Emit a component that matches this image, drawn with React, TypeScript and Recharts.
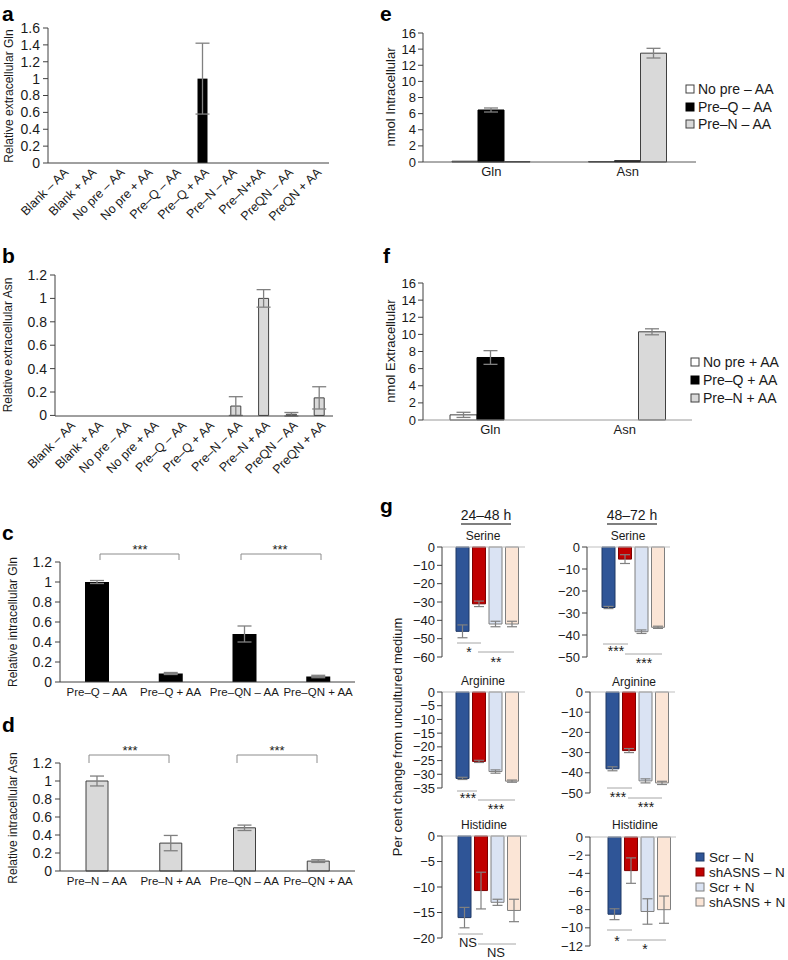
import React from 'react';
import { BarChart, Bar, XAxis, YAxis, ErrorBar, ReferenceLine } from 'recharts';

const FONT = '"Liberation Sans", Arial, Helvetica, sans-serif';
const AXIS = '#404040';
const ERR = '#808080';
const INK = '#1a1a1a';

// ---- a: relative extracellular Gln
const catsA = ['Blank – AA', 'Blank + AA', 'No pre – AA', 'No pre + AA', 'Pre–Q – AA', 'Pre–Q + AA', 'Pre–N – AA', 'Pre–N+AA', 'PreQN – AA', 'PreQN + AA'];
const extraGln = [0, 0, 0, 0, 0, 1.0, 0, 0, 0, 0];
const extraGlnErr = [0, 0, 0, 0, 0, 0.42, 0, 0, 0, 0];
const ticksA = [0, 0.2, 0.4, 0.6, 0.8, 1, 1.2, 1.4, 1.6];

// ---- b: relative extracellular Asn
const catsB = ['Blank – AA', 'Blank + AA', 'No pre – AA', 'No pre + AA', 'Pre–Q – AA', 'Pre–Q + AA', 'Pre–N – AA', 'Pre–N + AA', 'PreQN – AA', 'PreQN + AA'];
const extraAsn = [0, 0, 0, 0, 0, 0, 0.08, 1.0, 0.01, 0.15];
const extraAsnErr = [0, 0, 0, 0, 0, 0, 0.08, 0.075, 0.015, 0.095];
const ticks12 = [0, 0.2, 0.4, 0.6, 0.8, 1, 1.2];

// ---- c: relative intracellular Gln
const catsC = ['Pre–Q – AA', 'Pre–Q + AA', 'Pre–QN – AA', 'Pre–QN + AA'];
const intraGln = [1.0, 0.085, 0.48, 0.055];
const intraGlnErr = [0.015, 0.01, 0.08, 0.012];

// ---- d: relative intracellular Asn
const catsD = ['Pre–N – AA', 'Pre–N + AA', 'Pre–QN – AA', 'Pre–QN + AA'];
const intraAsn = [1.0, 0.31, 0.48, 0.11];
const intraAsnErr = [0.055, 0.085, 0.03, 0.015];

// ---- e / f: nmol
const aminoCats = ['Gln', 'Asn'];
const seriesE = ['No pre – AA', 'Pre–Q – AA', 'Pre–N – AA'];
const eNoPre = [0.1, 0.05];
const ePreQ = [6.45, 0.15];
const ePreN = [0.05, 13.5];
const eNoPreErr = [0, 0];
const ePreQErr = [0.25, 0];
const ePreNErr = [0, 0.6];
const seriesF = ['No pre + AA', 'Pre–Q + AA', 'Pre–N + AA'];
const fNoPre = [0.6, 0];
const fPreQ = [7.3, 0];
const fPreN = [0, 10.3];
const fNoPreErr = [0.3, 0];
const fPreQErr = [0.8, 0];
const fPreNErr = [0, 0.35];
const ticksNmol = [0, 2, 4, 6, 8, 10, 12, 14, 16];

// ---- g: per cent change from uncultured medium
const seriesG = ['Scr – N', 'shASNS – N', 'Scr + N', 'shASNS + N'];
const serine24 = [-46, -31, -42, -42];
const serine24Err = [3.5, 1.5, 1.5, 1.5];
const serine48 = [-27.5, -5.5, -38.5, -36.5];
const serine48Err = [0.5, 2, 0.8, 0.5];
const arginine24 = [-31.5, -25.3, -29, -32.5];
const arginine24Err = [0.4, 0.4, 0.6, 0.4];
const arginine48 = [-38, -29, -44, -45];
const arginine48Err = [1, 1, 1, 0.8];
const histidine24 = [-16, -10.7, -13, -14.6];
const histidine24Err = [2, 3.6, 0.6, 2.2];
const histidine48 = [-8.5, -3.7, -8.2, -8.0];
const histidine48Err = [0.6, 1.4, 1.4, 1.5];
const ticks60 = [-60, -50, -40, -30, -20, -10, 0];
const ticks50 = [-50, -40, -30, -20, -10, 0];
const ticks35 = [-35, -30, -25, -20, -15, -10, -5, 0];
const ticks20 = [-20, -15, -10, -5, 0];
const ticks12n = [-12, -10, -8, -6, -4, -2, 0];

const G_FILL = ['#2f5597', '#c00000', '#dae3f3', '#fbe5d6'];
const G_STROKE = ['#1f3864', '#7f0000', '#7f7f7f', '#7f7f7f'];
const G_KEYS = ['s0', 's1', 's2', 's3'];

type Geo = { x0: number; x1: number; yTop: number; yBot: number };

function frame(g: Geo, yw: number, xh: number, mt: number, mr: number, mb = 0) {
  return {
    style: { position: 'absolute' as const, left: g.x0 - yw, top: g.yTop - mt },
    width: yw + (g.x1 - g.x0) + mr,
    height: mt + (g.yBot - g.yTop) + xh + mb,
    margin: { top: mt, right: mr, bottom: mb, left: 0 },
  };
}

function AngledTick(props: any) {
  const { x, y, payload } = props;
  return (
    <g transform={`translate(${x + 4},${y + 3})`}>
      <text transform="rotate(-45)" textAnchor="end" dy="0.35em" fontSize={12.5} fill={INK} fontFamily={FONT}>
        {payload.value}
      </text>
    </g>
  );
}

function SimpleBars(p: {
  geo: Geo; yw: number; xh: number; cats: string[]; vals: number[]; errs: number[];
  domain: [number, number]; ticks: number[]; fill: string; stroke?: string; barSize: number; angled?: boolean;
}) {
  const f = frame(p.geo, p.yw, p.xh, 8, 12);
  const data = p.cats.map((name, i) => ({ name, value: p.vals[i], err: p.errs[i] }));
  return (
    <div style={f.style}>
      <BarChart width={f.width} height={f.height} margin={f.margin} data={data} barSize={p.barSize}>
        <XAxis
          dataKey="name"
          interval={0}
          height={p.xh}
          tickLine={false}
          tickSize={0}
          tickMargin={p.angled ? 4 : 6}
          axisLine={{ stroke: AXIS }}
          tick={p.angled ? <AngledTick /> : { fontSize: 11.5, fill: INK, fontFamily: FONT }}
        />
        <YAxis
          width={p.yw}
          type="number"
          domain={p.domain}
          ticks={p.ticks}
          interval={0}
          tickSize={5}
          tickMargin={3}
          axisLine={{ stroke: AXIS }}
          tickLine={{ stroke: AXIS }}
          tick={{ fontSize: 14, fill: INK, fontFamily: FONT }}
        />
        <Bar dataKey="value" fill={p.fill} stroke={p.stroke} strokeWidth={1} isAnimationActive={false}>
          <ErrorBar dataKey="err" width={7} stroke={ERR} strokeWidth={1.3} />
        </Bar>
      </BarChart>
    </div>
  );
}

function GroupBars(p: {
  geo: Geo; series: number[][]; errs: number[][]; barSize: number; axisColor: string;
}) {
  const f = frame(p.geo, 30, 24, 8, 6);
  const data = aminoCats.map((name, i) => ({
    name,
    v0: p.series[0][i], v1: p.series[1][i], v2: p.series[2][i],
    e0: p.errs[0][i], e1: p.errs[1][i], e2: p.errs[2][i],
  }));
  const fills = ['#ffffff', '#000000', '#d9d9d9'];
  const strokes = ['#404040', '#000000', '#404040'];
  return (
    <div style={f.style}>
      <BarChart width={f.width} height={f.height} margin={f.margin} data={data} barSize={p.barSize} barGap={0}>
        <XAxis
          dataKey="name"
          interval={0}
          height={24}
          tickLine={false}
          tickSize={0}
          tickMargin={5}
          axisLine={{ stroke: p.axisColor }}
          tick={{ fontSize: 13, fill: INK, fontFamily: FONT }}
        />
        <YAxis
          width={30}
          type="number"
          domain={[0, 16]}
          ticks={ticksNmol}
          interval={0}
          tickSize={5}
          tickMargin={2}
          axisLine={{ stroke: AXIS }}
          tickLine={{ stroke: AXIS }}
          tick={{ fontSize: 13, fill: INK, fontFamily: FONT }}
        />
        {[0, 1, 2].map((k) => (
          <Bar key={k} dataKey={`v${k}`} fill={fills[k]} stroke={strokes[k]} isAnimationActive={false}>
            <ErrorBar dataKey={`e${k}`} width={7} stroke={ERR} strokeWidth={1.3} />
          </Bar>
        ))}
      </BarChart>
    </div>
  );
}

const minus = (v: number) => String(v).replace('-', '−');

function GSub(p: { geo: Geo; vals: number[]; errs: number[]; domain: [number, number]; ticks: number[]; padLeft: number }) {
  const f = frame(p.geo, 32, 0, 8, 2, 8);
  const row: any = { name: 'g' };
  G_KEYS.forEach((k, i) => {
    row[k] = p.vals[i];
    row[k + 'Err'] = p.errs[i];
  });
  return (
    <div style={f.style}>
      <BarChart width={f.width} height={f.height} margin={f.margin} data={[row]} barSize={13} barGap={3.5}>
        <XAxis dataKey="name" hide padding={{ left: p.padLeft, right: 0 }} />
        <YAxis
          width={32}
          type="number"
          domain={p.domain}
          ticks={p.ticks}
          interval={0}
          tickSize={5}
          tickMargin={2}
          tickFormatter={minus}
          axisLine={{ stroke: AXIS }}
          tickLine={{ stroke: AXIS }}
          tick={{ fontSize: 13, fill: INK, fontFamily: FONT }}
        />
        <ReferenceLine y={0} stroke="#bfbfbf" strokeWidth={1.2} />
        {G_KEYS.map((k, i) => (
          <Bar key={k} dataKey={k} fill={G_FILL[i]} stroke={G_STROKE[i]} isAnimationActive={false}>
            <ErrorBar dataKey={k + 'Err'} width={5} stroke={ERR} strokeWidth={1.2} />
          </Bar>
        ))}
      </BarChart>
    </div>
  );
}

function Bracket({ x1, x2, y, drop }: { x1: number; x2: number; y: number; drop: number }) {
  return <path d={`M${x1},${y + drop} V${y} H${x2} V${y + drop}`} fill="none" stroke="#8c8c8c" strokeWidth={1} />;
}

function Sig({ x1, x2, y, label, tx, ty }: { x1: number; x2: number; y: number; label: string; tx: number; ty: number }) {
  return (
    <g>
      <line x1={x1} x2={x2} y1={y} y2={y} stroke="#a6a6a6" strokeWidth={1} />
      <text x={tx} y={ty} textAnchor="middle" fontSize={label === 'NS' ? 13 : 14} fill={INK}>{label}</text>
    </g>
  );
}

function YLabel({ x, y, text, size = 12 }: { x: number; y: number; text: string; size?: number }) {
  return (
    <text x={x} y={y} transform={`rotate(-90, ${x}, ${y})`} textAnchor="middle" fontSize={size} fill={INK}>
      {text}
    </text>
  );
}

function LegendItems({ x, ys, labels, fills, strokes, tx, size }: { x: number; ys: number[]; labels: string[]; fills: string[]; strokes: string[]; tx: number; size: number }) {
  return (
    <g>
      {labels.map((l, i) => (
        <g key={l}>
          <rect x={x} y={ys[i] - 4} width={8} height={8} fill={fills[i]} stroke={strokes[i]} strokeWidth={1} />
          <text x={tx} y={ys[i] + 5} fontSize={size} fill={INK}>{l}</text>
        </g>
      ))}
    </g>
  );
}

export default function App() {
  return (
    <div style={{ position: 'absolute', left: 0, top: 0, width: 788, height: 960, background: '#fff', overflow: 'hidden', fontFamily: FONT }}>
      <SimpleBars geo={{ x0: 48, x1: 329, yTop: 28, yBot: 163 }} yw={44} xh={75} cats={catsA} vals={extraGln} errs={extraGlnErr}
        domain={[0, 1.6]} ticks={ticksA} fill="#000000" barSize={10} angled />
      <SimpleBars geo={{ x0: 55, x1: 333, yTop: 275, yBot: 416 }} yw={48} xh={75} cats={catsB} vals={extraAsn} errs={extraAsnErr}
        domain={[0, 1.2]} ticks={ticks12} fill="#d9d9d9" stroke="#404040" barSize={10} angled />
      <SimpleBars geo={{ x0: 60, x1: 355, yTop: 562, yBot: 682 }} yw={44} xh={24} cats={catsC} vals={intraGln} errs={intraGlnErr}
        domain={[0, 1.2]} ticks={ticks12} fill="#000000" barSize={24} />
      <SimpleBars geo={{ x0: 60, x1: 355, yTop: 763, yBot: 871 }} yw={44} xh={24} cats={catsD} vals={intraAsn} errs={intraAsnErr}
        domain={[0, 1.2]} ticks={ticks12} fill="#d9d9d9" stroke="#404040" barSize={22} />

      <GroupBars geo={{ x0: 423, x1: 696, yTop: 33, yBot: 162 }} series={[eNoPre, ePreQ, ePreN]} errs={[eNoPreErr, ePreQErr, ePreNErr]} barSize={26} axisColor="#595959" />
      <GroupBars geo={{ x0: 423, x1: 692, yTop: 283, yBot: 420 }} series={[fNoPre, fPreQ, fPreN]} errs={[fNoPreErr, fPreQErr, fPreNErr]} barSize={27} axisColor="#9a9a9a" />

      <GSub geo={{ x0: 442, x1: 525, yTop: 547, yBot: 657 }} vals={serine24} errs={serine24Err} domain={[-60, 0]} ticks={ticks60} padLeft={8} />
      <GSub geo={{ x0: 587, x1: 670, yTop: 547, yBot: 657 }} vals={serine48} errs={serine48Err} domain={[-50, 0]} ticks={ticks50} padLeft={10} />
      <GSub geo={{ x0: 442, x1: 525, yTop: 692, yBot: 788 }} vals={arginine24} errs={arginine24Err} domain={[-35, 0]} ticks={ticks35} padLeft={7} />
      <GSub geo={{ x0: 590, x1: 675, yTop: 692, yBot: 793 }} vals={arginine48} errs={arginine48Err} domain={[-50, 0]} ticks={ticks50} padLeft={9} />
      <GSub geo={{ x0: 442, x1: 527, yTop: 836, yBot: 938 }} vals={histidine24} errs={histidine24Err} domain={[-20, 0]} ticks={ticks20} padLeft={10} />
      <GSub geo={{ x0: 590, x1: 676, yTop: 837, yBot: 946 }} vals={histidine48} errs={histidine48Err} domain={[-12, 0]} ticks={ticks12n} padLeft={12} />

      <svg width={788} height={960} style={{ position: 'absolute', left: 0, top: 0, pointerEvents: 'none' }} fontFamily={FONT}>
        {/* panel letters */}
        <g fontSize={21} fontWeight="bold" fill="#000">
          <text x={2} y={21}>a</text>
          <text x={2} y={263}>b</text>
          <text x={2} y={540}>c</text>
          <text x={2} y={732}>d</text>
          <text x={380} y={21}>e</text>
          <text x={383} y={263}>f</text>
          <text x={380} y={513}>g</text>
        </g>

        <YLabel x={13} y={96} text="Relative extracellular Gln" />
        <YLabel x={12} y={345} text="Relative extracellular Asn" />
        <YLabel x={17} y={622} text="Relative intracellular Gln" />
        <YLabel x={17} y={818} text="Relative intracellular Asn" />
        <YLabel x={395} y={97} text="nmol Intracellular" size={13} />
        <YLabel x={395} y={351} text="nmol Extracellular" size={13} />
        <YLabel x={402} y={737} text="Per cent change from uncultured medium" size={13} />

        {/* c, d brackets */}
        <Bracket x1={100} x2={179} y={554} drop={6} />
        <Bracket x1={241} x2={321} y={554} drop={6} />
        <Bracket x1={89} x2={169} y={755} drop={8} />
        <Bracket x1={237} x2={317} y={755} drop={8} />
        <g fontSize={13} fill={INK} textAnchor="middle">
          <text x={140} y={554}>***</text>
          <text x={280} y={554}>***</text>
          <text x={130} y={755}>***</text>
          <text x={277} y={755}>***</text>
        </g>

        {/* legends */}
        <LegendItems x={686} ys={[89, 107, 124]} tx={698} size={14} labels={seriesE}
          fills={['#ffffff', '#000000', '#d9d9d9']} strokes={['#404040', '#000000', '#404040']} />
        <LegendItems x={691} ys={[362, 380, 398]} tx={703} size={14} labels={seriesF}
          fills={['#ffffff', '#000000', '#d9d9d9']} strokes={['#404040', '#000000', '#404040']} />
        <LegendItems x={696} ys={[857, 872, 887, 902]} tx={709} size={13.5} labels={seriesG} fills={G_FILL} strokes={G_STROKE} />

        {/* g headings */}
        <g fontSize={14} fill={INK} textAnchor="middle">
          <text x={486} y={520}>24–48 h</text>
          <text x={632} y={520}>48–72 h</text>
        </g>
        <line x1={461} x2={511} y1={524} y2={524} stroke="#555" strokeWidth={1.3} />
        <line x1={607} x2={657} y1={524} y2={524} stroke="#555" strokeWidth={1.3} />
        <g fontSize={12} fill={INK} textAnchor="middle">
          <text x={483} y={540}>Serine</text>
          <text x={628} y={540}>Serine</text>
          <text x={483} y={685}>Arginine</text>
          <text x={634} y={686}>Arginine</text>
          <text x={484} y={829}>Histidine</text>
          <text x={635} y={829}>Histidine</text>
        </g>

        {/* g significance */}
        <Sig x1={457} x2={481} y={643} label="*" tx={469} ty={657} />
        <Sig x1={478} x2={514} y={652} label="**" tx={496} ty={667} />
        <Sig x1={603} x2={628} y={644} label="***" tx={616} ty={656} />
        <Sig x1={625} x2={662} y={654} label="***" tx={644} ty={668} />
        <Sig x1={457} x2={477} y={791} label="***" tx={468} ty={803} />
        <Sig x1={478} x2={515} y={800} label="***" tx={496} ty={814} />
        <Sig x1={607} x2={632} y={788} label="***" tx={618} ty={802} />
        <Sig x1={628} x2={662} y={798} label="***" tx={646} ty={812} />
        <Sig x1={458} x2={483} y={934} label="NS" tx={468} ty={947} />
        <Sig x1={478} x2={516} y={944} label="NS" tx={496} ty={957} />
        <Sig x1={607} x2={632} y={930} label="*" tx={617} ty={946} />
        <Sig x1={627} x2={666} y={940} label="*" tx={645} ty={954} />
      </svg>
    </div>
  );
}
